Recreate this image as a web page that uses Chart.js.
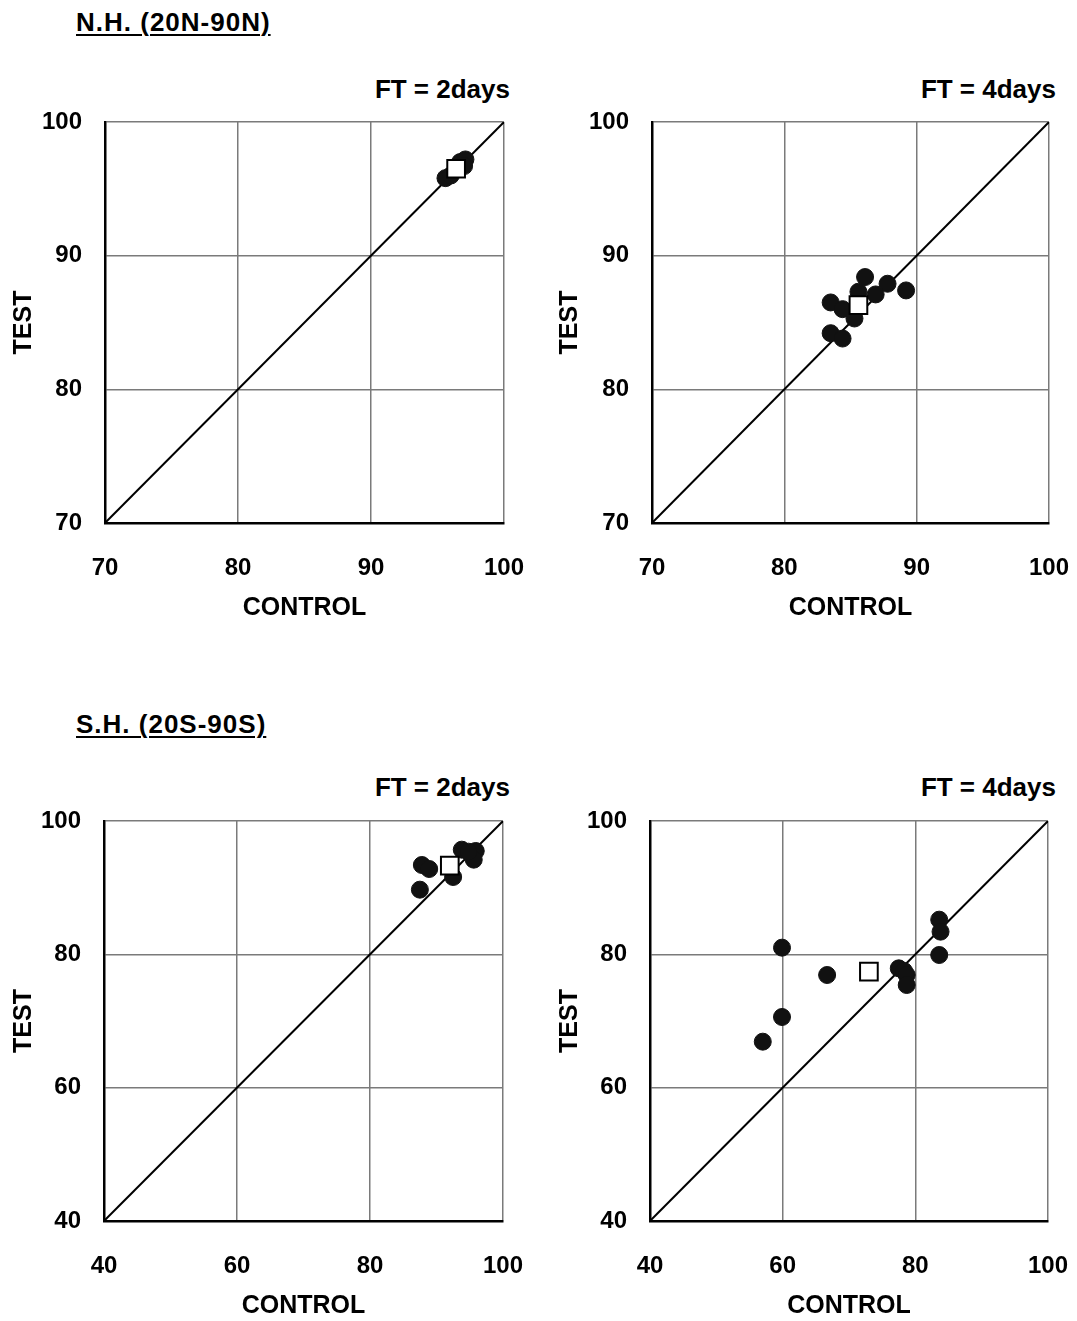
<!DOCTYPE html>
<html>
<head>
<meta charset="utf-8">
<script src="https://cdn.jsdelivr.net/npm/chart.js@4/dist/chart.umd.min.js"></script>
<style>
  body { margin: 0; background: #fff; width: 1077px; height: 1321px; position: relative; overflow: hidden;
         font-family: "Liberation Sans", Arial, sans-serif; }
  canvas { position: absolute; }
  .head { position: absolute; left: 76px; font-weight: bold; font-size: 26px; letter-spacing: 1px;
          text-decoration: underline; text-decoration-thickness: 2px; text-underline-offset: 3px; line-height: 30px; }
  .ft { position: absolute; font-weight: bold; font-size: 26px; line-height: 28px; text-align: right; }
</style>
</head>
<body>
<div class="head" style="top:7px">N.H. (20N-90N)</div>
<div class="head" style="top:709px">S.H. (20S-90S)</div>
<div class="ft" style="top:75px; right:567px">FT = 2days</div>
<div class="ft" style="top:75px; right:21px">FT = 4days</div>
<div class="ft" style="top:773px; right:567px">FT = 2days</div>
<div class="ft" style="top:773px; right:21px">FT = 4days</div>

<canvas id="nh2" width="530" height="528" style="left:0px; top:102px"></canvas>
<canvas id="nh4" width="530" height="528" style="left:546px; top:102px"></canvas>
<canvas id="sh2" width="530" height="520" style="left:0px; top:801px"></canvas>
<canvas id="sh4" width="530" height="520" style="left:546px; top:801px"></canvas>

<script>
// axis ranges and ticks
const nhTicks = [70, 80, 90, 100];
const shTicks = [40, 60, 80, 100];

// N.H. FT = 2days
const nh2Control = [95.6, 96.0, 96.7, 97.1, 97.0];
const nh2Test = [95.8, 96.0, 97.0, 97.2, 96.7];
const nh2Mean = [96.4, 96.5];

// N.H. FT = 4days
const nh4Control = [86.1, 87.8, 89.2, 86.9, 85.6, 83.5, 84.4, 85.3, 83.5, 84.4];
const nh4Test = [88.4, 87.9, 87.4, 87.1, 87.3, 86.5, 86.0, 85.3, 84.2, 83.8];
const nh4Mean = [85.6, 86.3];

// S.H. FT = 2days
const sh2Control = [87.8, 88.9, 87.5, 92.5, 93.8, 95.9, 95.6, 94.8];
const sh2Test = [93.4, 92.8, 89.7, 91.6, 95.7, 95.5, 94.2, 95.4];
const sh2Mean = [92.0, 93.3];

// S.H. FT = 4days
const sh4Control = [59.9, 66.7, 77.5, 78.3, 78.7, 78.7, 59.9, 57.0, 83.6, 83.8, 83.6];
const sh4Test = [81.0, 76.9, 77.9, 77.5, 76.9, 75.4, 70.6, 66.9, 85.2, 83.4, 79.9];
const sh4Mean = [73.0, 77.4];

const FONT = "'Liberation Sans', Arial, sans-serif";

const toPoints = (xs, ys) => xs.map((x, i) => ({ x: x, y: ys[i] }));

const makeChart = (canvasId, opts) => {
    const lo = opts.ticks[0];
    const hi = opts.ticks[opts.ticks.length - 1];
    const step = opts.ticks[1] - opts.ticks[0];

    // tick marks are invisible; their length just pushes the labels away from the axis
    const axisCommon = (tickLength) => ({
        type: "linear",
        min: lo,
        max: hi,
        ticks: {
            stepSize: step,
            padding: 0,
            color: "#000",
            font: { family: FONT, size: 24, weight: "bold" },
        },
        grid: {
            color: "#7a7a7a",
            lineWidth: 1.5,
            drawTicks: true,
            tickLength: tickLength,
            tickColor: "rgba(0,0,0,0)",
        },
        border: { color: "#000", width: 2.5 },
    });

    new Chart(document.getElementById(canvasId), {
        type: "scatter",
        data: {
            datasets: [
                {
                    data: [{ x: opts.mean[0], y: opts.mean[1] }],
                    pointStyle: "rect",
                    pointRadius: 12.5,
                    backgroundColor: "#fff",
                    borderColor: "#000",
                    borderWidth: 2,
                },
                {
                    data: toPoints(opts.control, opts.test),
                    pointStyle: "circle",
                    pointRadius: 8.5,
                    backgroundColor: "#111",
                    borderColor: "#111",
                    borderWidth: 1,
                },
                {
                    type: "line",
                    data: [{ x: lo, y: lo }, { x: hi, y: hi }],
                    borderColor: "#000",
                    borderWidth: 2,
                    pointRadius: 0,
                },
            ],
        },
        options: {
            responsive: false,
            animation: false,
            layout: { padding: { top: 20, right: opts.padRight, left: 0, bottom: 0 } },
            plugins: {
                legend: { display: false },
                tooltip: { enabled: false },
            },
            scales: {
                x: {
                    ...axisCommon(31),
                    position: "bottom",
                    title: {
                        display: true,
                        text: "CONTROL",
                        color: "#000",
                        font: { family: FONT, size: 25, weight: "bold" },
                        padding: { top: 4, bottom: opts.titlePad },
                    },
                    afterFit: (scale) => { scale.height = opts.xHeight; },
                },
                y: {
                    ...axisCommon(23),
                    position: "left",
                    title: {
                        display: true,
                        text: "TEST",
                        color: "#000",
                        font: { family: FONT, size: 25, weight: "bold" },
                        padding: { top: 9.5, bottom: 4 },
                    },
                    afterFit: (scale) => { scale.width = opts.yWidth; },
                },
            },
        },
    });
};

makeChart("nh2", { ticks: nhTicks, control: nh2Control, test: nh2Test, mean: nh2Mean, yWidth: 105, padRight: 26, xHeight: 107, titlePad: 7 });
makeChart("nh4", { ticks: nhTicks, control: nh4Control, test: nh4Test, mean: nh4Mean, yWidth: 106, padRight: 27, xHeight: 107, titlePad: 7 });
makeChart("sh2", { ticks: shTicks, control: sh2Control, test: sh2Test, mean: sh2Mean, yWidth: 104, padRight: 27, xHeight: 100, titlePad: 0 });
makeChart("sh4", { ticks: shTicks, control: sh4Control, test: sh4Test, mean: sh4Mean, yWidth: 104, padRight: 28, xHeight: 100, titlePad: 0 });
</script>
</body>
</html>
